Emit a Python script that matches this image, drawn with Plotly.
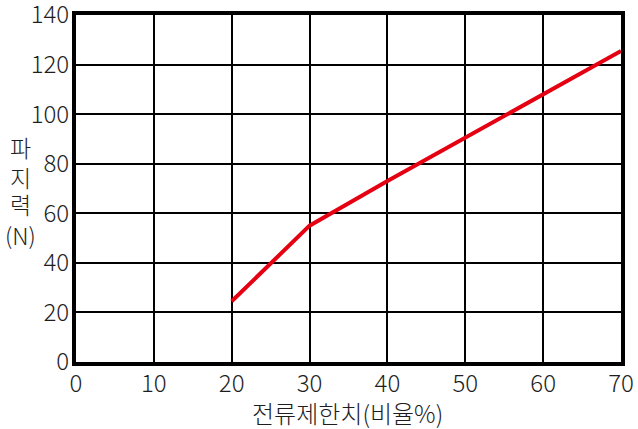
import plotly.graph_objects as go

x_vals = [20, 30, 40, 50, 60, 70]
force_n = [24.5, 55, 73, 90.5, 108, 125.5]
x_ticks = [0, 10, 20, 30, 40, 50, 60, 70]
y_ticks = [0, 20, 40, 60, 80, 100, 120, 140]
y_title_lines = ["파", "지", "력", "(N)"]
x_title = "전류제한치(비율%)"

FONT = "Noto Sans CJK KR"
TXT = "#1e1e1e"

fig = go.Figure()
fig.add_trace(go.Scatter(
    x=x_vals, y=force_n, mode="lines",
    line=dict(color="#e50012", width=4),
    hoverinfo="skip", showlegend=False,
))

axis_common = dict(
    showgrid=True, gridcolor="#000000", gridwidth=1.5,
    showline=True, linecolor="#000000", linewidth=4, mirror=True,
    zeroline=False, ticks="", ticklabeloverflow="allow", automargin=False,
    tickfont=dict(family=FONT, size=24, color=TXT, weight=300),
)

annotations = [
    dict(text=x_title, xref="paper", yref="paper", x=0.499, y=-0.145,
         xanchor="center", yanchor="middle", showarrow=False,
         font=dict(family=FONT, size=24, color=TXT, weight=300)),
]
# vertical stacked y-axis title, one line per annotation
y_title_pos = [0.620, 0.533, 0.454, 0.365]
for txt, yp in zip(y_title_lines, y_title_pos):
    annotations.append(dict(text=txt, xref="paper", yref="paper", x=-0.101, y=yp,
                            xanchor="center", yanchor="middle", showarrow=False,
                            font=dict(family=FONT, size=23, color=TXT, weight=300)))

fig.update_layout(
    width=638, height=429,
    margin=dict(l=76, r=17, t=15, b=67),
    paper_bgcolor="white", plot_bgcolor="white",
    xaxis=dict(range=[0, 70], tickvals=x_ticks, ticktext=[str(v) for v in x_ticks],
               ticklabelstandoff=-3, **axis_common),
    yaxis=dict(range=[0, 140], tickvals=y_ticks, ticktext=[str(v) for v in y_ticks],
               ticklabelstandoff=-2, **axis_common),
    annotations=annotations,
)

fig.write_html("out.html", config={"displayModeBar": False},
               post_script="document.body.style.margin='0';document.body.style.padding='0';")
